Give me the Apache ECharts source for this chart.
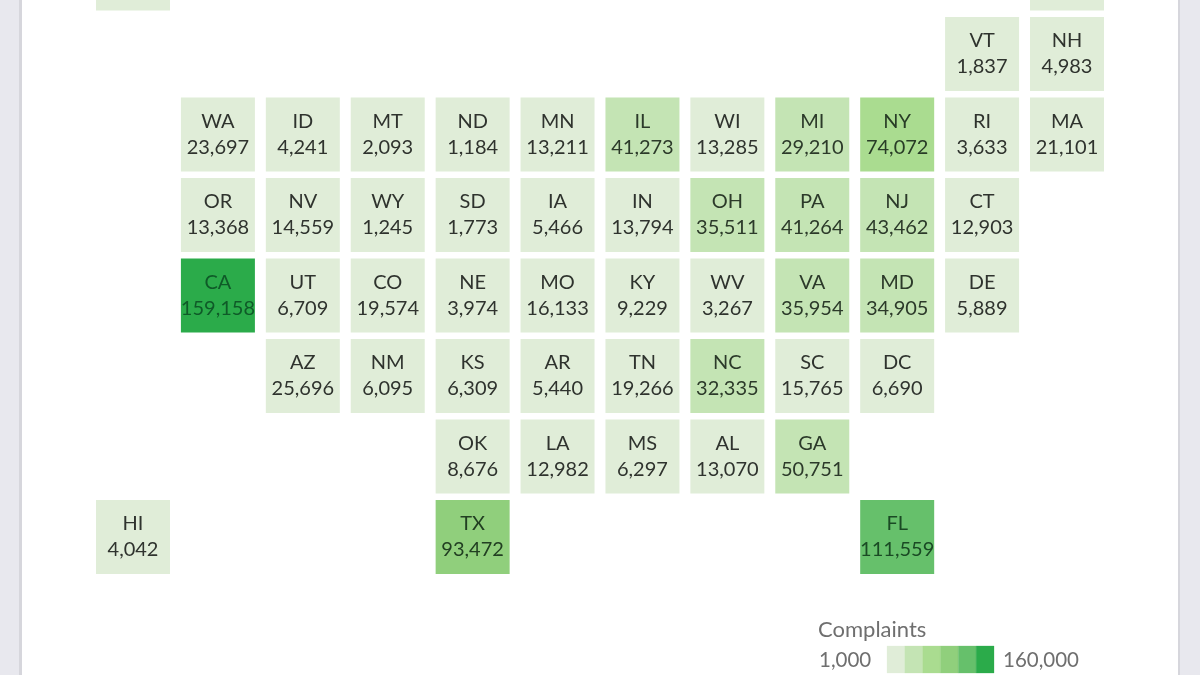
<!DOCTYPE html>
<html><head><meta charset="utf-8">
<script src="https://cdn.jsdelivr.net/npm/echarts@6/dist/echarts.min.js"></script>
<style>html,body{margin:0;padding:0;background:#fff}#c{width:1200px;height:675px}</style>
</head><body><div id="c"></div>
<script>
// [state, column, row, complaints]; AK and ME are cropped at the top edge, their values are out of frame
const rowTop = [['AK',0,0,null],['ME',11,0,null]];
const row1 = [['VT',10,1,1837],['NH',11,1,4983]];
const row2 = [['WA',1,2,23697],['ID',2,2,4241],['MT',3,2,2093],['ND',4,2,1184],['MN',5,2,13211],['IL',6,2,41273],['WI',7,2,13285],['MI',8,2,29210],['NY',9,2,74072],['RI',10,2,3633],['MA',11,2,21101]];
const row3 = [['OR',1,3,13368],['NV',2,3,14559],['WY',3,3,1245],['SD',4,3,1773],['IA',5,3,5466],['IN',6,3,13794],['OH',7,3,35511],['PA',8,3,41264],['NJ',9,3,43462],['CT',10,3,12903]];
const row4 = [['CA',1,4,159158],['UT',2,4,6709],['CO',3,4,19574],['NE',4,4,3974],['MO',5,4,16133],['KY',6,4,9229],['WV',7,4,3267],['VA',8,4,35954],['MD',9,4,34905],['DE',10,4,5889]];
const row5 = [['AZ',2,5,25696],['NM',3,5,6095],['KS',4,5,6309],['AR',5,5,5440],['TN',6,5,19266],['NC',7,5,32335],['SC',8,5,15765],['DC',9,5,6690]];
const row6 = [['OK',4,6,8676],['LA',5,6,12982],['MS',6,6,6297],['AL',7,6,13070],['GA',8,6,50751]];
const row7 = [['HI',0,7,4042],['TX',4,7,93472],['FL',9,7,111559]];
const binEdges = [1000,27500,54000,80500,107000,133500,160000];
const binColors = ['#e0edd8','#c4e4b4','#aadc90','#90cf7c','#66c06b','#2bab4a'];
const labelColors = ['#2f332e','#2c3a2a','#283c26','#223f22','#1a4a24','#0f5a28'];

const states = [].concat(rowTop,row1,row2,row3,row4,row5,row6,row7);
function bin(v){ if(v==null) return 0; for(let i=0;i<6;i++){ if(v<binEdges[i+1]) return i; } return 5; }
const fmt = v => v==null ? '' : v.toLocaleString('en-US');
const FONT = 'Lato';
const legendSwatches = binColors.map((c,i)=>({type:'rect',z:90,
  shape:{x:887+i*17.83,y:646,width:17.83,height:27},style:{fill:c,stroke:c,lineWidth:0.3}}));

const chart = echarts.init(document.getElementById('c'),null,{renderer:'canvas'});
chart.setOption({
  animation:false,
  backgroundColor:'#fff',
  grid:{left:133,top:0,width:934,height:537},
  xAxis:{type:'value',min:0,max:11,show:false},
  yAxis:{type:'value',min:0.3292,max:7,inverse:true,show:false},
  graphic:[
    {type:'rect',left:0,top:0,shape:{width:22,height:675},style:{fill:'#e8e8ee'},z:-1},
    {type:'rect',left:1178,top:0,shape:{width:22,height:675},style:{fill:'#e8e8ee'},z:-1},
    {type:'rect',left:19,top:0,shape:{width:3,height:675},style:{fill:'#d6d6dc'},z:-1},
    {type:'rect',left:1178,top:0,shape:{width:2,height:675},style:{fill:'#d6d6dc'},z:-1},
    {type:'text',left:818,top:619,style:{text:'Complaints',font:'22px '+FONT,fill:'#6f6f6f'}},
    {type:'text',left:819,top:650,style:{text:'1,000',font:'20.5px '+FONT,fill:'#6f6f6f'}},
    {type:'text',left:1003,top:650,style:{text:'160,000',font:'20.5px '+FONT,fill:'#6f6f6f'}},
    ...legendSwatches
  ],
  series:[
    {type:'scatter',silent:true,clip:false,symbol:'rect',symbolSize:74,
     itemStyle:{opacity:1},
     data:states.map(s=>({value:[s[1],s[2]],itemStyle:{color:binColors[bin(s[3])],opacity:1},
       label:{color:labelColors[bin(s[3])]},name:s[0],raw:s[3]})),
     label:{show:true,position:'inside',fontFamily:FONT,fontSize:20,lineHeight:26,
       formatter:p=>p.data.raw==null?'':p.name+'\n'+fmt(p.data.raw)}
    }
  ]
});
</script></body></html>
